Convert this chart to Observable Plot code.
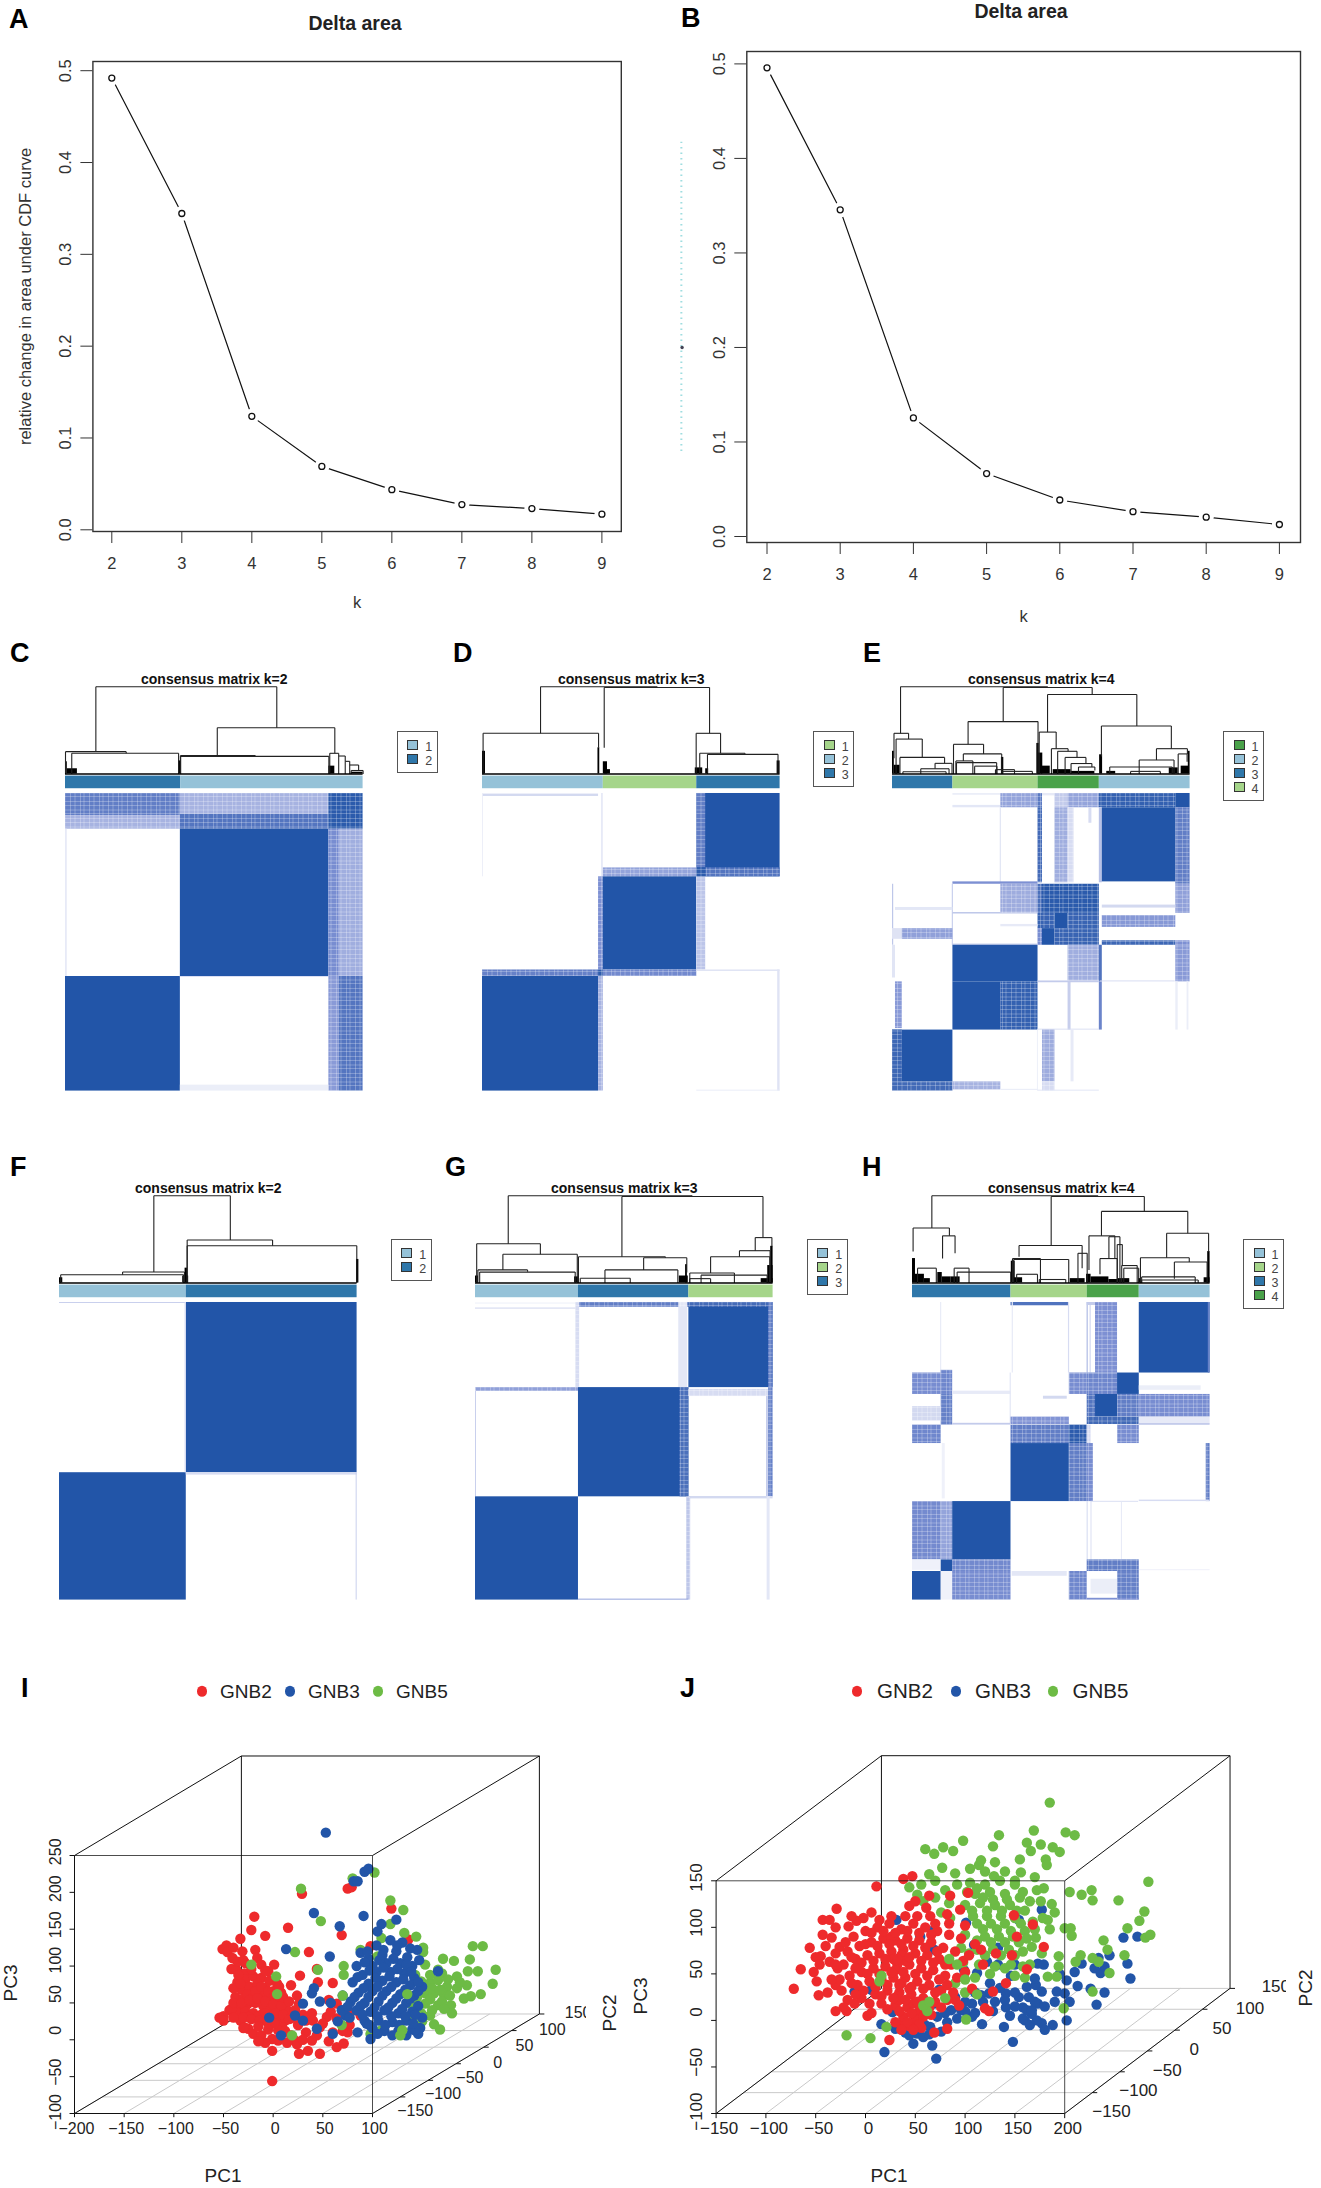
<!DOCTYPE html>
<html>
<head>
<meta charset="utf-8">
<script src="https://cdn.jsdelivr.net/npm/d3@7"></script>
<script src="https://cdn.jsdelivr.net/npm/@observablehq/plot@0.6"></script>
<style>
body{margin:0;background:#fff;font-family:"Liberation Sans",Arial,sans-serif}
#page{position:relative;width:1321px;height:2188px;overflow:hidden}
#page>div.abs{position:absolute}
.panel{position:absolute;font-weight:bold;font-size:27px;line-height:1;color:#000}
.legend{position:absolute;box-sizing:border-box;border:1.5px solid #555;background:#fff;width:41px}
.legend .sw{position:absolute;left:9.5px;width:9px;height:8px;border:1px solid #333}
.legend .tx{position:absolute;left:26px;width:10px;text-align:center;font-size:12.5px;line-height:12px;color:#444}
.lab{position:absolute;white-space:nowrap;color:#222;transform:translate(-50%,-50%)}
.lab.rot{transform:translate(-50%,-50%) rotate(-90deg)}
.dotk{position:absolute;width:10px;height:10.5px;border-radius:50%;transform:translate(-50%,-50%)}
</style>
</head>
<body>
<svg width="0" height="0" style="position:absolute"><defs>
<pattern id="mottle" width="19" height="17" patternUnits="userSpaceOnUse">
<path d="M0 1.5H19M0 6H19M0 9.5H19M0 14.5H19" stroke="#fff" stroke-width=".8" stroke-opacity=".32"/>
<path d="M2 0V17M7.5 0V17M11 0V17M16.5 0V17" stroke="#fff" stroke-width=".8" stroke-opacity=".32"/>
</pattern>
</defs></svg>
<div id="page"></div>
<script>
// ---- Delta area panels
const kValues = [2,3,4,5,6,7,8,9];
const deltaA = [0.492,0.3445,0.1236,0.069,0.0437,0.0275,0.0231,0.017];
const deltaB = [0.4958,0.3456,0.1255,0.0666,0.0386,0.0263,0.0204,0.0127];
const yTicksDelta = [0,0.1,0.2,0.3,0.4,0.5];

// ---- consensus colours
const lb="#95c2d8", db="#2f77aa", lg="#a5d58a", dg="#4aa24a";
const barsC=[[0,38.7,db],[38.7,100,lb]];
const barsD=[[0,40.6,lb],[40.6,72,lg],[72,100,db]];
const barsE=[[0,20.3,db],[20.3,48.9,lg],[48.9,69.5,dg],[69.5,100,lb]];
const barsF=[[0,42.6,lb],[42.6,100,db]];
const barsG=[[0,34.6,lb],[34.6,71.7,db],[71.7,100,lg]];
const barsH=[[0,33.1,db],[33.1,58.7,lg],[58.7,76.2,dg],[76.2,100,lb]];

// ---- matrix blocks: [col1, col2, row1, row2, consensus]
const cellsC=[
[0,38.6,0,7.5,.72],[0,38.6,7.5,12,.42],[38.6,88.5,0,7,.42],[38.6,88.5,7,12,.78],[88.5,100,0,12,.96],
[38.6,88.5,12,61.5,1],[88.5,92,12,61.5,.62],[92,100,12,61.5,.45],
[0,.6,12,61.5,.12],[0,38.6,61.5,100,1],[38.6,88.5,61.5,61.8,.2],[88.5,92,61.5,100,.55],[92,100,61.5,100,.78],
[38.6,88.5,98,100,.1]];
const cellsD=[
[0,39,.2,1,.22],[0,.3,0,28,.1],[40,40.6,0,28,.12],
[72,100,0,28,1],[72,75,0,25,.72],[40.6,72,25,28,.5],[75,100,25,28,.78],
[39,40.6,28,59.3,.6],[40.6,72,28,59.3,1],[72,75,28,59.3,.33],[72,75,25,28,.95],
[0,39,59.3,61.5,.7],[39,40.6,59.3,61.5,.95],[40.6,72,59.3,61.5,.65],
[0,39,61.5,100,1],[39,40.6,61.5,100,.42],[72,100,59.3,59.8,.16],[99.2,100,59.3,100,.16],[72,100,99.7,100,.12]];
const cellsE=[
[20.3,36.4,0,.6,.1],[20.3,36.4,4,4.8,.14],[36.4,48.9,0,4.8,.5],[48.9,50.4,0,4.8,.75],[50.4,54.6,0,.8,.12],[54.6,59,0,4.8,.3],[59,69.5,0,4.8,.5],[69.5,95.2,0,4.8,.92],[95.2,100,0,4.8,1],
[48.9,50.4,4.8,30,.85],[54.6,59,4.8,30,.45],[59,61,4.8,30,.2],[66,67,4.8,10,.2],[69.5,70.5,4.8,30,.35],[70.5,95.2,4.8,29.7,1],[95.2,100,4.8,30.5,.72],
[36.2,36.6,4.8,30,.15],
[20.3,48.9,29.7,30.5,.6],[0,.4,30.5,51,.32],[20.1,20.4,30.5,51,.35],[36.4,48.9,30.5,40.3,.46],[48.9,50.4,30.5,40.3,.82],[50.4,69.5,30.5,40.3,.96],[95.2,100,30.5,40.3,.52],[70.5,95.2,37.5,38.5,.22],
[1,20.3,38.3,39.3,.14],[20.3,48.9,40,40.5,.32],
[48.9,54.6,40.3,45.4,.9],[54.6,59,40.3,45.4,1],[59,69.5,40.3,45.4,.9],[70.5,95.2,41,45,.56],[36.4,48.9,44,44.8,.12],
[0,3.3,45.4,49,.16],[3.3,20.3,45.4,49,.52],[48.9,50.4,45.4,51,.62],[50.4,54.6,45.4,51,1],[54.6,69.5,45.4,51,.9],[70.5,95.2,49.5,51,.88],[95.2,100,49.5,51,.6],[20.3,48.9,50.6,51,.3],
[20.3,48.9,51,63.3,1],[59,69.5,51,63,.45],[69.5,70.5,51,63.3,.8],[95.2,100,51,63.3,.55],[0,1,51,62,.15],
[20.3,36.4,63.3,79.5,1],[36.4,48.9,63.3,79.5,.92],[59,60,63.3,79.5,.28],[69.5,70.5,63.3,79.5,.68],[1,3.3,63.3,79,.55],[95.2,96,63.3,79.5,.1],[99,99.6,63.3,79.5,.1],[48.9,69.5,79.2,79.5,.2],[48.9,69.5,63,63.6,.3],[69.8,95,63,63.3,.22],
[0,20.3,79.5,96.9,1],[0,3.3,79.5,96.9,.88],[50.4,54.6,79.5,96.9,.46],[60,61,79.5,96.9,.12],
[0,20.3,96.9,100,.86],[20.3,36.4,96.9,99.6,.42],[50.4,54.6,96.9,100,.2],[48.7,49,79.5,100,.1],[36.4,48.9,99.4,99.8,.1],[48.9,69.5,99.7,100,.16]];
const cellsF=[
[42.6,100,0,57.2,1],[0,42.6,57.2,100,1],[0,42.6,0,.3,.3],[42.2,42.6,0,57.2,.2],[42.6,100,57.2,58,.2],[99.7,100,57.2,100,.3]];
const cellsG=[
[0,34.6,.2,.5,.1],[0,34.6,1.8,2.3,.16],[34.6,71.7,0,1.6,.72],[33.7,35,0,28.6,.2],[68.3,71.3,0,28.6,.14],
[71.7,100,0,28.6,1],[71.7,98.5,0,1.6,.85],[98.5,100,0,28.6,.72],
[0,34.6,28.6,29.9,.52],[34.6,71.7,28.6,65.3,1],[68.7,71.7,28.6,65.3,.82],[71.7,98.5,29.2,31.6,.2],[97.8,98.4,31.6,65.3,.3],[98.5,100,28.6,65.3,.7],
[0,.3,28.6,65.3,.3],[71.7,100,65.2,66,.22],[0,34.6,65.3,100,1],[71,72.3,65.3,100,.32],[34.6,71.7,99.7,100,.55],[98,99,65.3,100,.14]];
const cellsH=[
[9.5,9.8,0,23.7,.15],[33.1,52.7,0,1.1,.8],[33.5,33.9,0,23.7,.12],[52.4,52.8,0,23.7,.2],[58.7,59,0,23.7,.5],[59.7,60,0,23.7,.3],[61.5,68.9,0,23.7,.6],[58.7,61.5,0,1,.3],[76.2,100,0,23.7,1],[99.4,100,0,23.7,.7],
[0,9.65,23.7,30.9,.62],[9.65,13.5,22.8,30.9,.66],[13.5,33.1,29.8,30.9,.12],[32.8,33.2,23.7,41,.14],[52.7,58.7,23.7,30.9,.62],[58.7,68.9,23.7,30.9,.66],[68.9,76.2,23.7,30.9,1],[76.2,97,28,29.5,.1],
[9.65,13.5,30.9,41.2,.7],[0,9.65,35,39.8,.22],[44,52,31.5,32.5,.22],[58.7,61.5,30.9,38.5,.78],[61.5,68.9,30.9,38.5,1],[68.9,76.2,30.9,38.5,.72],[76.2,100,30.9,38.5,.62],
[33.1,52.7,38.5,41,.58],[58.7,76.2,38.5,41,.86],[76.2,100,38.6,41,.12],[13.5,33.1,40.6,41.2,.3],[76.2,100,40.8,41.2,.4],
[0,9.65,41.2,47.4,.66],[33.1,52.7,41.2,47.4,.72],[52.7,58.7,41.2,47.4,.95],[58.7,60,41.2,47.4,.2],[68.9,76.2,41.2,47.4,.62],
[33.1,52.7,47.4,66.9,1],[52.7,58.7,47.4,66.9,.72],[58.7,60.8,47.4,66.9,.62],[98.7,100,47.4,66.9,.72],[76.2,100,66.4,66.9,.2],[60,76,66.8,67.2,.15],[10,11,47.4,66,.08],
[0,9.65,66.9,86.5,.64],[9.65,13.5,66.9,86.5,.5],[13.5,33.1,66.9,86.5,1],[58.7,59,66.9,86.5,.25],[60,60.3,66.9,86.5,.2],[70.2,70.5,66.9,86.5,.14],
[0,9.65,86.5,90,.08],[9.65,13.5,86.5,90.4,1],[13.5,33.1,86.5,90.4,.65],[58.7,76.2,86.5,90.4,.72],[76.2,100,89.9,90.1,.14],
[0,9.65,90.4,100,1],[9.65,13.5,90.4,100,.08],[13.5,33.1,90.4,100,.62],[33.5,52,90.4,92,.14],[52.7,58.7,90.4,100,.66],[68.9,76.2,90.4,100,.7],[60,68.9,93,98,.1],[58.7,76.2,99.4,100,.6]];

// ---- dendrograms: [leafLeft, leafRight, heightTop, heightLeft, heightRight]
const treeC=[[10.2,71,100,25.6,53],[0,20.4,25.6,0,23.7],[2.1,38,23.7,0,0],[51,90.5,53,21,23.7],[38.6,63.8,21,0,20.2],[38.7,88.5,20.2,0,0],[88.8,91.8,23.7,0,20.6],[91.8,94,20.6,0,14.5],[94,95.5,14.5,0,10.3],[95.5,98.5,10.3,0,4],[96,100,4,0,0]];
const blobC=[[0,.6,14],[.6,4,6],[38,38.9,15],[88.5,90.5,9],[96,100,2]];
const treeD=[[19.5,58.7,100,46.6,99.5],[40.9,76.3,99,30,46.6],[.2,39,46.6,0,30],[71.8,80,46.6,0,23.7],[73,88.2,23.7,0,22.5],[75.6,99.3,22.5,0,0]];
const blobD=[[0,1,26],[38.8,39.4,30],[40.6,42,14],[41,43,5],[71.5,74,7],[75,76,6],[99,100,15]];
const treeE=[[2.7,52.1,100,46.6,99],[37.2,67.1,99,60,91],[.5,5.4,46.6,18,40],[1.2,10,40,0,19],[2.5,17.5,19,0,12.2],[14.3,20,12.2,6,0],[9.5,19,6,0,0],[3.5,18,2.5,0,0],
[25.4,48.9,60,34,0],[20.5,30.6,34,0,23],[23.8,36.7,23,15,0],[21.3,27,15,0,0],[21.5,35,13,0,0],[27.6,35.1,9,0,0],[34.6,41,5,0,0],[37,47,3,0,0],
[52.1,82.1,91,48,55],[49.3,55,48,0,29],[53.4,59,29,0,26],[55.5,62,26,0,19],[58,65,19,0,12],[60,67,12,0,8],[62.5,68,8,0,4],
[70.2,93.7,55,20,29],[88.7,99.1,29,16,23],[82.9,94.6,16,0,0],[73,94,8,0,0],[80,90,3,0,0],[96,99,23,0,14]];
const blobE=[[0,.6,26],[.6,2.5,10],[36.6,37.4,19],[48.5,49.3,35],[49,50.5,24],[50,53,9],[54,60,5],[60,68,3],[69.6,70.6,22],[72,75,3],[93,96,7],[99.4,100,26],[97,99.5,9]];
const treeF=[[31.7,57.4,100,12.6,49.2],[21.2,42,12.6,9.5,0],[.4,41.7,9.5,0,0],[42.9,71.6,49.2,0,42.7],[42.9,99.9,42.7,0,0]];
const blobF=[[42.2,43,17],[41.4,43.4,8],[0,1.1,6],[99.8,100.6,27]];
const treeG=[[11,72.8,100,45,99],[49.2,96.6,99,30,52],[.4,21.8,45,0,33],[9.2,34.2,33,15,0],[.8,17.5,15,0,13],[1.4,33.5,12.5,0,0],[34.6,63.8,30,0,29],[56.5,71,29,15,12],[43.5,68,15,0,0],[35.2,52,5.5,0,0],[94,99.6,52,37,42],[88.7,99,37,30,0],[79,98.9,30,11.5,0],[72,87,11.5,0,0],[75.8,98,9,0,0],[72,79,5,0,0]];
const blobG=[[0,1,8],[33.3,34.8,7],[68.5,71.5,8],[70.6,71.2,21],[99.2,100,42],[98.2,100,20],[96,100,5]];
const treeH=[[6.5,62.3,100,63,99],[46.6,77.9,99,43,82],[.2,12.4,63,36,54],[10.1,14.3,54,28,34],[14,19,17,0,0],[15,33,12.5,0,0],[1.7,8,17,0,0],
[35.8,57,43,30,17],[33.6,43,28,0,0],[34,52.5,27,0,0],[35,42,10,0,0],[42.6,51.5,4,0,0],[55.6,58.7,34,0,0],
[63.5,92.5,82,54,57],[59.3,68,54,15,28],[63,68.8,28,10,0],[66,69.7,53,28,0],[68.8,70.5,44,0,20],[70.3,75.5,20,0,0],[71,76,17,0,0],
[85.4,99.5,57,29,36],[76.6,93,29,0,24],[88,99,24,5,0],[77,95,7,0,0],[77,96,3.5,0,0]];
const blobH=[[0,1,28],[1,4,10],[4,6,5],[8.5,10,12],[10,13,7],[13,16,7],[33.2,34.5,25],[34,37,6],[53,58,5],[58.5,60,10],[60,66,7],[66,69,4],[69,73,5],[76,77,5],[99.2,100,36],[98,100,6]];

// ---- PCA points: [PC1 on the front plane, PC3 on the front plane]
const redI=[[-19,167],[-22,149],[-8,141],[-33,137],[15,152],[36,119],[69,142],[75,205],[79,207],[29,198],[119,178],[-51,123],[-47,128],[-46,119],[-41,111],[-31,120],[-18,122],[-16,111],[-42,96],[-37,95],[-29,90],[-12,102],[1,102],[-5,93],[27,87],[44,96],
[-36,78],[-28,82],[-20,86],[-12,84],[-4,80],[4,76],[-32,68],[-24,72],[-16,76],[-8,70],[0,66],[8,64],[-38,58],[-30,56],[-22,60],[-14,62],[-6,58],[2,54],[10,50],[-34,46],[-26,48],[-18,50],[-10,46],[-2,44],[6,40],[14,38],[-44,40],[-36,36],[-28,38],[-20,36],[-12,34],[-4,30],[4,28],[12,26],[18,34],[-50,32],
[-54,30],[-50,26],[-42,42],[-25,15],[-20,8],[-12,6],[-1,1],[-1,-15],[9,17],[18,6],[26,-19],[35,-15],[47,-19],[64,-10],[71,-5],[75,10],[47,17],[33,10],[18,29],[14,40],[26,49],[18,74],[39,36],[45,78],[60,77],[56,54],[64,49],[77,36],[88,33],[64,29],[54,31],[77,20],[-1,-56],[-3,26],[5,13],[-16,31],[-25,31],[-33,26],[-29,17],[1,22],[22,40],[33,26],[39,-1],[22,-1],[5,-1],[-8,36],[98,127],[136,136],
[-40,70],[-33,76],[-26,62],[-18,66],[-12,72],[-5,66],[2,62],[6,72],[-40,50],[-32,50],[-24,54],[-16,56],[-8,52],[0,48],[8,46],[-40,30],[-30,30],[-22,28],[-14,26],[-6,24],[2,36],[10,34],[16,28],[-30,16],[-15,18],[-5,14],[12,12],[25,20],[30,34],[40,26],[50,22],[58,38],[70,40],[10,58],[16,52],[24,60],[-35,88],[-22,96],[-8,94],[-28,104],[-36,106],[-40,125],[-30,108],[24,-6],[14,-4],[30,0],[-8,-4],[-15,-2],[44,6],[60,10],[70,12],[56,-2]];
const greenI=[[102,227],[80,219],[28,205],[118,189],[131,176],[48,161],[118,157],[132,145],[144,140],[151,125],[151,119],[22,119],[88,122],[109,138],[105,113],[201,127],[211,127],[171,110],[182,107],[198,109],[224,95],[206,93],[196,93],[185,86],[221,76],[195,74],[209,62],[199,59],[192,56],[179,47],[180,36],[168,14],[162,21],[98,8],[153,102],[166,95],[143,88],[149,79],[158,77],[166,81],[175,72],[185,70],[153,63],[162,63],[172,61],[145,58],[139,49],[153,49],[166,47],[149,36],[158,33],[3,86],[4,62],[-22,102],[71,100],[45,95],[71,88],[19,6],[69,20],[109,13],
[158,88],[170,90],[176,82],[160,70],[168,68],[178,60],[150,68],[188,78],[158,55],[170,52],[160,40],[172,42],[145,45],[150,25],[140,30]];
const blueI=[[53,281],[92,228],[96,232],[81,215],[85,215],[41,172],[67,154],[91,168],[109,157],[124,163],[105,147],[13,123],[57,113],[41,70],[39,63],[30,49],[47,52],[58,50],[-4,30],[22,33],[30,26],[8,6],[44,15],[60,8],[73,33],[69,40],[77,30],[98,1],[94,22],
[88,118],[104,128],[118,135],[130,132],[138,124],[96,110],[110,115],[124,120],[135,112],[145,122],[84,100],[100,100],[114,104],[128,104],[140,100],[90,88],[104,92],[118,92],[132,90],[142,84],[80,78],[96,76],[110,80],[124,78],[138,74],[150,72],[86,64],[100,66],[114,66],[128,62],[142,60],[78,52],[92,50],[106,52],[120,50],[134,50],[146,46],[84,40],[98,38],[112,40],[126,36],[140,38],[92,26],[106,26],[120,24],[134,26],[148,16],[112,12],[126,12],[140,14],[146,8],[100,16],[150,30],[166,93],[143,13],
[95,120],[111,122],[125,128],[92,105],[107,108],[121,110],[134,102],[147,108],[97,94],[111,98],[125,96],[139,92],[85,85],[103,84],[117,86],[131,82],[146,78],[91,70],[105,72],[119,72],[133,68],[146,66],[82,58],[96,58],[110,60],[124,56],[138,56],[88,46],[102,44],[116,44],[130,42],[143,34],[90,34],[105,32],[119,32],[133,32],[97,20],[113,20],[127,20],[141,22],[105,8],[120,6],[134,6],[75,45],[70,60],[65,25],[85,10]];
const greenITop=[[130,13],[128,6],[70,60],[135,62]];

const blueJ=[[177,119],[259,89],[273,90],[245,70],[234,67],[263,61],[266,45],[236,51],[217,61],[230,56],[213,37],[226,34],[232,17],[202,43],[192,31],[200,29],[202,0],[188,-5],[177,-3],[167,7],[158,14],[173,18],[139,-7],[148,-23],[117,-4],[107,4],[141,14],[124,29],[141,29],[116,27],[162,36],[171,38],[177,31],[173,61],[179,60],[133,78],[133,60],[154,108],[67,96],[101,105],[109,81],[86,11],[96,11],[107,18],[82,-2],[65,-7],[48,-11],[40,-13],[16,-4],[27,9],[30,-9],[48,-25],[67,-27],[19,-34],[71,-41],[-11,31],[6,33],[162,11],[167,11],[69,18],[90,25],[74,33],[99,54],[112,51],[69,76],[55,90],[31,108],[122,63],[52,-14],[44,-16],[154,25],[164,25],
[130,20],[150,15],[160,0],[170,20],[145,5],[180,15],[128,10],[118,20],[100,10],[110,8],[92,2],[80,8],[72,4],[60,-5],[58,-18],[38,-5],[64,-15],[76,-12],[150,30],[140,22],[135,35],[125,40],[110,30],[100,20],[190,20],[205,20],[180,-10],[165,-5],[172,0],[158,2],[195,50],[210,52],[240,58],[170,45],[150,60],[146,48],[240,30]];
const greenJ=[[185,234],[169,204],[201,202],[210,199],[134,199],[98,193],[128,187],[60,184],[69,179],[78,186],[88,182],[162,191],[166,182],[176,189],[188,186],[195,181],[155,173],[181,173],[182,167],[114,167],[105,163],[77,164],[90,158],[64,157],[129,155],[156,159],[284,149],[205,138],[217,135],[227,140],[228,129],[254,129],[280,117],[275,107],[263,99],[281,89],[286,92],[239,86],[243,76],[200,99],[206,99],[207,91],[260,70],[245,51],[216,70],[228,67],[234,63],[211,63],[194,69],[194,58],[183,47],[192,47],[199,13],[228,31],[-19,-16],[5,-19],[21,-7],[101,1],[61,11],[44,143],[52,135],[179,142],[187,125],[190,116],[183,108],[185,98],[171,89],[167,79],[177,72],
[105,148],[120,146],[135,150],[150,146],[110,136],[125,138],[140,136],[155,132],[165,128],[100,124],[115,126],[130,124],[145,124],[160,118],[108,112],[122,112],[136,112],[150,110],[168,106],[118,98],[132,98],[146,96],[160,96],[112,86],[126,84],[140,84],[154,84],[104,72],[120,70],[136,70],[150,70],[165,60],[140,56],[150,48],[160,46],[125,50],[110,46],[90,40],[100,30],[84,126],[70,132],[58,128],[172,140],[176,128],[170,154],
[112,142],[128,130],[142,130],[158,138],[102,138],[118,132],[107,118],[122,118],[137,118],[152,118],[112,104],[126,104],[140,104],[156,104],[100,92],[120,90],[134,90],[148,90],[162,88],[96,78],[112,76],[128,76],[144,76],[158,74],[98,62],[114,60],[130,58],[146,60],[158,58],[80,140],[92,146],[70,150],[56,146],[120,160],[140,160],[116,172],[170,98],[178,110],[150,150],[130,170],[85,110],[76,116]];
const redJ=[[-72,34],[-65,55],[-56,78],[-47,27],[-49,42],[-52,52],[-43,108],[-36,108],[-29,120],[-17,101],[-9,107],[-43,92],[-34,89],[-26,79],[-45,69],[-36,63],[-28,56],[-30,38],[-30,10],[-19,10],[-11,18],[2,5],[16,18],[11,144],[38,152],[47,155],[24,-21],[36,-4],[52,-2],[69,-13],[82,-9],[120,13],[124,10],[162,55],[179,79],[152,90],[168,103],[149,113],[103,137],[85,134],[64,134],[44,123],[61,121],[95,119],[82,114],[65,112],[50,128],[116,76],[131,72],[147,70],[141,40],[128,31],[107,34],[90,22],
[-12,90],[0,96],[12,100],[24,104],[36,98],[48,104],[60,100],[72,96],[84,92],[96,88],[-18,74],[-6,80],[6,84],[18,88],[30,86],[42,88],[54,86],[66,84],[78,78],[90,74],[-22,60],[-10,66],[2,70],[14,72],[26,74],[38,76],[50,72],[62,70],[74,66],[86,60],[98,64],[-16,48],[-4,52],[8,56],[20,58],[32,60],[44,60],[56,56],[68,54],[80,48],[92,46],[-24,32],[-8,38],[4,42],[16,44],[28,46],[40,46],[52,42],[64,38],[76,32],[88,30],[100,52],[-18,22],[-4,24],[10,28],[22,32],[34,30],[46,28],[58,24],[70,20],[82,22],[94,16],[30,16],[42,14],[54,10],[66,6],[38,4],[50,2],[44,-6],[56,-8],[34,22],[48,18],[26,90],[36,70],[40,64],[28,66],[30,54],[44,34],[36,40],[32,26],[-30,72],[-40,80],[-26,44],
[6,94],[18,96],[30,94],[42,96],[54,94],[66,92],[0,82],[12,80],[24,82],[36,82],[48,80],[60,78],[72,74],[-14,68],[-4,62],[8,64],[20,66],[32,66],[44,68],[56,64],[68,62],[80,60],[-10,56],[2,50],[14,50],[26,52],[38,52],[50,50],[62,48],[74,44],[-14,40],[-2,32],[10,36],[22,38],[34,38],[46,36],[58,34],[70,30],[82,38],[-10,28],[4,18],[16,26],[28,24],[40,22],[52,20],[64,14],[76,14],[22,12],[34,10],[46,8],[58,4],[30,-2],[42,-2],[54,-4],[36,-10],[48,-10],[-30,100],[-20,84],[-30,60],[-34,44],[-14,112],[-2,110],[6,116],[14,108],[26,112],[40,112],[52,112],[70,104],[84,104],[100,102],[110,82],[104,70],[118,60],[-38,30],[-22,14],[6,8],[-50,68],[-46,60]];
const greenJTop=[[14,42],[16,48],[62,10],[58,16],[64,20],[80,24],[112,28],[92,60],[84,66],[100,44]];

const pc1TicksI=[-200,-150,-100,-50,0,50,100], pc3TicksI=[-100,-50,0,50,100,150,200,250];
const pc3LabelPosI=[-98,-44,13,62,108,156,205,255];
const pc2LabelsCommon=[-150,-100,-50,0,50,100,150];
const pc2UI=[143,171,198,226,253,281,307], pc2VI=[-97,-74,-52,-31,-8,14,36];
const pc1TicksJ=[-150,-100,-50,0,50,100,150,200], pc3TicksJ=[-100,-50,0,50,100,150];
const pc3LabelPosJ=[-98,-45,9,55,105,153.5];
const pc2UJ=[247,274,303,330,358,386,412], pc2VJ=[-98,-75,-54,-31,-9,13,36];
const geneNames=["GNB2","GNB3","GNB5"], geneColors=["#ee2a2c","#2255a8","#6dbb45"];

// ---- helpers
const page=document.getElementById("page");
const FONT='"Liberation Sans",Arial,sans-serif';
function put(node,l,t){const d=document.createElement("div");d.className="abs";d.style.left=l+"px";d.style.top=t+"px";d.style.lineHeight=0;d.appendChild(node);page.appendChild(d);}
function html(cls,text,l,t,extra){const d=document.createElement("div");d.className=cls;d.textContent=text;d.style.left=l+"px";d.style.top=t+"px";if(extra)Object.assign(d.style,extra);page.appendChild(d);return d;}

function deltaPanel(vals,cfg){
  const tab=kValues.map((k,i)=>({k,v:vals[i]}));
  const marks=[
    ...(cfg.extra||[]),
    Plot.frame({stroke:"#333",strokeWidth:1.4}),
    Plot.axisX({anchor:"bottom",ticks:kValues,tickSize:12,tickPadding:14,fontSize:16.5,stroke:"#333",color:"#333",label:"k",labelArrow:"none",labelAnchor:"center",labelOffset:cfg.kOff,tickFormat:d=>d}),
    Plot.axisY({anchor:"left",ticks:yTicksDelta,tickSize:12,tickPadding:10,tickRotate:-90,fontSize:16.5,stroke:"#333",color:"#333",tickFormat:".1f",label:cfg.ylab,labelArrow:"none",labelAnchor:"center",labelOffset:cfg.yOff}),
    Plot.line(tab,{x:"k",y:"v",stroke:"#111",strokeWidth:1.2}),
    Plot.dot(tab,{x:"k",y:"v",r:7.5,fill:"#fff",stroke:"none"}),
    Plot.dot(tab,{x:"k",y:"v",r:3,fill:"#fff",stroke:"#111",strokeWidth:1.3}),
  ];
  return Plot.plot({width:cfg.w,height:cfg.h,marginLeft:cfg.ml,marginRight:cfg.w-cfg.bx2,marginTop:cfg.by1,marginBottom:cfg.h-cfg.by2,
    x:{domain:[2,9],range:cfg.xr,axis:null,label:null},y:{domain:[0,.5],range:cfg.yr,axis:null,label:null},style:{fontFamily:FONT,background:"none"},marks});
}

function consensus(cells,bars,tree,blobs,title,left,top){
  const W=297.6, pad=30, padTop=125;
  const dendY=h=>-6.55-h*.2934;
  const segs=tree.flatMap(([a,b,t,l,r])=>[{x1:a,x2:b,y1:dendY(t),y2:dendY(t)},{x1:a,x2:a,y1:dendY(t),y2:dendY(l)},{x1:b,x2:b,y1:dendY(t),y2:dendY(r)}]);
  const tab=cells.map(([x1,x2,y1,y2,v])=>({x1,x2,y1,y2,v}));
  const svg=Plot.plot({width:W+2*pad,height:padTop+W+10,margin:0,
    x:{domain:[0,100],range:[pad,pad+W],axis:null},
    y:{domain:[0,100],range:[padTop,padTop+W],axis:null},
    color:{type:"linear",domain:[0,.3,.6,1],range:["#ffffff","#c3cbeb","#7d90d3","#2255a8"]},
    style:{fontFamily:FONT,background:"none"},
    marks:[
      Plot.rect(tab,{x1:"x1",x2:"x2",y1:"y1",y2:"y2",fill:"v",inset:0}),
      Plot.rect(tab.filter(d=>d.v>=.2&&d.v<.97&&(d.x2-d.x1)>1.1&&(d.y2-d.y1)>1.1),{x1:"x1",x2:"x2",y1:"y1",y2:"y2",fill:{value:()=>"url(#mottle)",scale:null}}),
      Plot.rect(bars.map(([x1,x2,c])=>({x1,x2,c})),{x1:"x1",x2:"x2",y1:-5.85,y2:-1.6,fill:{value:d=>d.c,scale:null}}),
      Plot.rect(blobs.map(([x1,x2,h])=>({x1,x2,h})),{x1:"x1",x2:"x2",y1:dendY(0),y2:d=>dendY(d.h),fill:"#000"}),
      Plot.link(segs,{x1:"x1",x2:"x2",y1:"y1",y2:"y2",stroke:"#222",strokeWidth:1.1}),
      Plot.ruleY([dendY(0)],{x1:0,x2:100,stroke:"#000",strokeWidth:1.3}),
      Plot.text([title],{x:50,y:-38.3,text:d=>d,fontWeight:"bold",fontSize:14,fill:"#111"}),
    ]});
  put(svg,left-pad,top-padTop);
}

function legend(l,t,colors){
  const d=document.createElement("div");d.className="legend";d.style.left=l+"px";d.style.top=t+"px";
  d.style.height=(colors.length*14+14)+"px";
  colors.forEach((c,i)=>{
    const s=document.createElement("div");s.className="sw";s.style.top=(8.5+i*14)+"px";s.style.background=c;d.appendChild(s);
    const x=document.createElement("div");x.className="tx";x.style.top=(9+i*14)+"px";x.textContent=i+1;d.appendChild(x);
  });
  page.appendChild(d);
}

function scatter(cfg){
  const P=cfg;
  const fl=[1,2,3,4,5,6].map(k=>k/6);
  const [u0,u1]=P.xd,[v0,v1]=P.yd,du=P.du,dv=P.dv;
  const box=(a,b,c,d)=>({x1:a,y1:b,x2:c,y2:d});
  const gridLines=[
    ...P.pc1.map(u=>box(u,v0,u+du,v0+dv)),
    ...fl.map(t=>box(u0+du*t,v0+dv*t,u1+du*t,v0+dv*t)),
  ];
  const backLines=[
    box(u0,v1,u0+du,v1+dv),box(u1,v1,u1+du,v1+dv),box(u0+du,v1+dv,u1+du,v1+dv),
    box(u0+du,v0+dv,u0+du,v1+dv),box(u1+du,v0+dv,u1+du,v1+dv),box(u0,v0,u0+du,v0+dv),box(u1,v0,u1+du,v0+dv),
    box(u0,v0,u1,v0),box(u0,v0,u0,v1)
  ];
  const frontLines=[box(u0,v1,u1,v1),box(u1,v0,u1,v1)];
  const ticks=[
    ...P.pc1.map(u=>box(u,v0,u,v0-P.tv)),
    ...P.pc3.map(v=>box(u0,v,u0-P.tu,v)),
    ...fl.map(t=>box(u1+du*t,v0+dv*t,u1+du*t+P.tu,v0+dv*t)),
  ];
  const dots=(pts,c)=>Plot.dot(pts,{x:d=>d[0],y:d=>d[1],r:5.2,fill:c,stroke:"none"});
  const fmt=d=>String(d).replace("-","\u2212");
  const svg=Plot.plot({width:P.w,height:P.h,margin:0,
    x:{domain:P.xd,range:P.xr,axis:null},y:{domain:P.yd,range:P.yr,axis:null},
    style:{fontFamily:P.font,background:"none"},
    marks:[
      Plot.link(gridLines,{x1:"x1",y1:"y1",x2:"x2",y2:"y2",stroke:"#c9c9c9",strokeWidth:1}),
      Plot.link(backLines,{x1:"x1",y1:"y1",x2:"x2",y2:"y2",stroke:"#111",strokeWidth:1}),
      Plot.link(ticks,{x1:"x1",y1:"y1",x2:"x2",y2:"y2",stroke:"#111",strokeWidth:1}),
      ...P.layers.map(([pts,c])=>dots(pts,c)),
      Plot.link(frontLines,{x1:"x1",y1:"y1",x2:"x2",y2:"y2",stroke:"#111",strokeOpacity:.75,strokeWidth:1}),
      Plot.text(P.pc1,{x:d=>d+P.xlabDu,y:P.xlabV,text:fmt,fontSize:P.fs,fill:"#222"}),
      Plot.text(P.pc3,{x:P.ylabU,y:(d,i)=>P.pc3Pos[i],rotate:-90,text:fmt,fontSize:P.fs,fill:"#222"}),
      Plot.text(pc2LabelsCommon,{x:(d,i)=>P.pc2U[i],y:(d,i)=>P.pc2V[i],text:fmt,fontSize:P.fs,fill:"#222"}),
    ]});
  put(svg,P.left,P.top);
}

// ---- build page
put(deltaPanel(deltaA,{w:660,h:640,ml:92.4,bx2:620.8,by1:61,by2:531,xr:[111.3,601.4],yr:[529.3,70.2],ylab:"relative change in area under CDF curve",yOff:74,kOff:76}),0,0);
put(deltaPanel(deltaB,{w:660,h:640,ml:86.3,bx2:640,by1:51,by2:542,xr:[106.5,618.9],yr:[536,63.4],ylab:null,yOff:0,kOff:79,
  extra:[Plot.ruleX([.83],{y1:.09,y2:.417,stroke:"#9fdde0",strokeWidth:2,strokeDasharray:"1.5,4"}),Plot.dot([[.84,.2]],{x:d=>d[0],y:d=>d[1],r:1.7,fill:"#445"})]}),660,0);
html("lab","Delta area",355,23,{fontWeight:"bold",fontSize:"19.5px"});
html("lab","Delta area",1021,11,{fontWeight:"bold",fontSize:"19.5px"});

const panelLabels=[["A",9,6],["B",681,5],["C",10,640],["D",453,640],["E",863,640],["F",10,1154],["G",445,1154],["H",862,1154],["I",21,1675],["J",680,1675]];
panelLabels.forEach(([t,l,y])=>html("panel",t,l,y));

consensus(cellsC,barsC,treeC,blobC,"consensus matrix k=2",65,793.3);
consensus(cellsD,barsD,treeD,blobD,"consensus matrix k=3",482,793.3);
consensus(cellsE,barsE,treeE,blobE,"consensus matrix k=4",891.7,793.3);
consensus(cellsF,barsF,treeF,blobF,"consensus matrix k=2",59.3,1301.7);
consensus(cellsG,barsG,treeG,blobG,"consensus matrix k=3",475.3,1301.7);
consensus(cellsH,barsH,treeH,blobH,"consensus matrix k=4",912.3,1301.7);
legend(396.7,730.7,[lb,db]);
legend(813.3,730.7,[lg,lb,db]);
legend(1223,730.7,[dg,lb,db,lg]);
legend(390.7,1238.7,[lb,db]);
legend(806.7,1238.7,[lb,lg,db]);
legend(1243,1238.7,[lb,lg,db,dg]);

scatter({left:0,top:1740,w:586,h:448,xd:[-200,100],yd:[-100,250],xr:[74,372],yr:[373,115],du:168,dv:135,tu:5,tv:5,
  pc1:pc1TicksI,pc3:pc3TicksI,pc3Pos:pc3LabelPosI,pc2U:pc2UI,pc2V:pc2VI,xlabDu:2,xlabV:-120.5,ylabU:-219,fs:16,font:FONT,
  layers:[[redI,geneColors[0]],[greenI,geneColors[2]],[blueI,geneColors[1]],[greenITop,geneColors[2]]]});
scatter({left:660,top:1740,w:626,h:448,xd:[-150,200],yd:[-100,150],xr:[55.6,404.2],yr:[373,140.3],du:166,dv:134.4,tu:5,tv:5,
  pc1:pc1TicksJ,pc3:pc3TicksJ,pc3Pos:pc3LabelPosJ,pc2U:pc2UJ,pc2V:pc2VJ,xlabDu:3,xlabV:-116,ylabU:-169.5,fs:17,font:FONT,
  layers:[[blueJ,geneColors[1]],[greenJ,geneColors[2]],[redJ,geneColors[0]],[greenJTop,geneColors[2]]]});

const axisLabs=[["PC1",223,2176,false],["PC3",11,1983,true],["PC2",610,2013,true],["PC1",889,2176,false],["PC3",641,1996,true],["PC2",1306,1988,true]];
axisLabs.forEach(([t,x,y,r])=>html(r?"lab rot":"lab",t,x,y,{fontSize:"19px"}));

function topLegend(items,y,fs){
  items.forEach(([dx,tx],i)=>{
    const d=document.createElement("div");d.className="dotk";d.style.left=dx+"px";d.style.top=y+"px";d.style.background=geneColors[i];page.appendChild(d);
    const t=document.createElement("div");t.style.cssText=`position:absolute;left:${tx}px;top:${y}px;transform:translateY(-50%);font-size:${fs}px;color:#222;line-height:1`;t.textContent=geneNames[i];page.appendChild(t);
  });
}
topLegend([[202,220],[290,308],[377.5,396]],1691,19);
topLegend([[857,877],[955.5,975],[1053,1072.6]],1691,20.5);
</script>
</body>
</html>
